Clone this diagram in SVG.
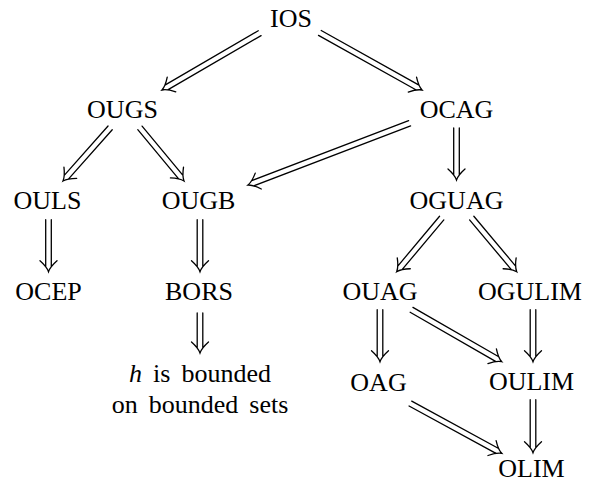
<svg xmlns="http://www.w3.org/2000/svg" width="594" height="483" viewBox="0 0 594 483">
<style>
text{font-family:"Liberation Serif","Times New Roman",serif;font-size:26px;fill:#000;text-anchor:middle}
.a{fill:none;stroke:#000;stroke-width:1.3;stroke-linecap:round}
</style>
<rect width="594" height="483" fill="#fff"/>
<g id="connectors">
<path class="a" transform="translate(162 90) rotate(149.8)" d="M-113,-2.8H-5M-113,2.8H-5M-11,-8.5C-7,-4 -3,-1 0,0C-3,1 -7,4 -11,8.5"/>
<path class="a" transform="translate(422 90) rotate(29.2)" d="M-117,-2.8H-5M-117,2.8H-5M-11,-8.5C-7,-4 -3,-1 0,0C-3,1 -7,4 -11,8.5"/>
<path class="a" transform="translate(63 181) rotate(131.6)" d="M-71,-2.8H-5M-71,2.8H-5M-11,-8.5C-7,-4 -3,-1 0,0C-3,1 -7,4 -11,8.5"/>
<path class="a" transform="translate(184 181) rotate(50.3)" d="M-69,-2.8H-5M-69,2.8H-5M-11,-8.5C-7,-4 -3,-1 0,0C-3,1 -7,4 -11,8.5"/>
<path class="a" transform="translate(248 185) rotate(159.1)" d="M-173,-2.8H-5M-173,2.8H-5M-11,-8.5C-7,-4 -3,-1 0,0C-3,1 -7,4 -11,8.5"/>
<path class="a" transform="translate(456.5 180) rotate(90)" d="M-52,-2.8H-5M-52,2.8H-5M-11,-8.5C-7,-4 -3,-1 0,0C-3,1 -7,4 -11,8.5"/>
<path class="a" transform="translate(396.7 271.7) rotate(130)" d="M-70,-2.8H-5M-70,2.8H-5M-11,-8.5C-7,-4 -3,-1 0,0C-3,1 -7,4 -11,8.5"/>
<path class="a" transform="translate(516.7 271.7) rotate(50)" d="M-70,-2.8H-5M-70,2.8H-5M-11,-8.5C-7,-4 -3,-1 0,0C-3,1 -7,4 -11,8.5"/>
<path class="a" transform="translate(380 361.7) rotate(90)" d="M-52,-2.8H-5M-52,2.8H-5M-11,-8.5C-7,-4 -3,-1 0,0C-3,1 -7,4 -11,8.5"/>
<path class="a" transform="translate(501.7 361.7) rotate(29.9)" d="M-104,-2.8H-5M-104,2.8H-5M-11,-8.5C-7,-4 -3,-1 0,0C-3,1 -7,4 -11,8.5"/>
<path class="a" transform="translate(533 361.7) rotate(90)" d="M-52,-2.8H-5M-52,2.8H-5M-11,-8.5C-7,-4 -3,-1 0,0C-3,1 -7,4 -11,8.5"/>
<path class="a" transform="translate(501.7 453.3) rotate(28.6)" d="M-104,-2.8H-5M-104,2.8H-5M-11,-8.5C-7,-4 -3,-1 0,0C-3,1 -7,4 -11,8.5"/>
<path class="a" transform="translate(533 452.7) rotate(90)" d="M-53,-2.8H-5M-53,2.8H-5M-11,-8.5C-7,-4 -3,-1 0,0C-3,1 -7,4 -11,8.5"/>
<path class="a" transform="translate(48.5 271.7) rotate(90)" d="M-52,-2.8H-5M-52,2.8H-5M-11,-8.5C-7,-4 -3,-1 0,0C-3,1 -7,4 -11,8.5"/>
<path class="a" transform="translate(200 271.7) rotate(90)" d="M-52,-2.8H-5M-52,2.8H-5M-11,-8.5C-7,-4 -3,-1 0,0C-3,1 -7,4 -11,8.5"/>
<path class="a" transform="translate(200 353) rotate(90)" d="M-40,-2.8H-5M-40,2.8H-5M-11,-8.5C-7,-4 -3,-1 0,0C-3,1 -7,4 -11,8.5"/>
</g>
<g id="IOS"><text x="291" y="27">IOS</text></g>
<g id="OUGS"><text x="122.5" y="118">OUGS</text></g>
<g id="OCAG"><text x="456.5" y="118">OCAG</text></g>
<g id="OULS"><text x="47.5" y="209">OULS</text></g>
<g id="OUGB"><text x="198.5" y="209">OUGB</text></g>
<g id="OGUAG"><text x="456.5" y="209">OGUAG</text></g>
<g id="OCEP"><text x="48.5" y="300">OCEP</text></g>
<g id="BORS"><text x="199" y="300">BORS</text></g>
<g id="OUAG"><text x="380" y="300">OUAG</text></g>
<g id="OGULIM"><text x="530" y="300">OGULIM</text></g>
<g id="bounded"><text x="200" y="382" style="word-spacing:4.5px"><tspan font-style="italic">h</tspan> is bounded</text><text x="200" y="413" style="word-spacing:4.5px">on bounded sets</text></g>
<g id="OAG"><text x="378.5" y="391">OAG</text></g>
<g id="OULIM"><text x="531.5" y="390">OULIM</text></g>
<g id="OLIM"><text x="531.5" y="477">OLIM</text></g>
</svg>
